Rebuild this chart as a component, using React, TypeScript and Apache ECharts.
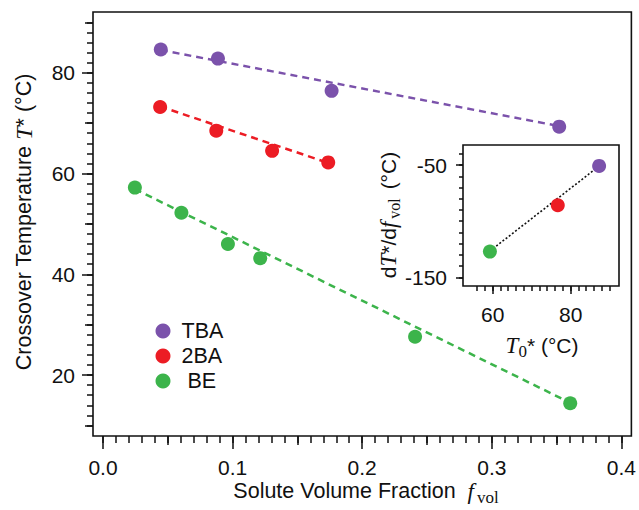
import React, { useEffect, useRef } from "react";
import * as echarts from "echarts";

// ---- data ----
const TBA_X = [0.0446, 0.0887, 0.1764, 0.352];
const TBA_Y = [84.6, 82.8, 76.4, 69.3];
const BA2_X = [0.0441, 0.0874, 0.1305, 0.1738];
const BA2_Y = [73.2, 68.5, 64.5, 62.2];
const BE_X = [0.0246, 0.0605, 0.0964, 0.1213, 0.2408, 0.3605];
const BE_Y = [57.2, 52.2, 46.0, 43.2, 27.6, 14.4];

// fitted dashed lines (end points)
const TBA_FIT_X = [0.0446, 0.352];
const TBA_FIT_Y = [84.5, 69.4];
const BA2_FIT_X = [0.0441, 0.1738];
const BA2_FIT_Y = [73.3, 62.1];
const BE_FIT_X = [0.0246, 0.3605];
const BE_FIT_Y = [56.9, 14.5];

// inset: slope dT*/df_vol vs T0*
const INSET_NAMES = ["BE", "2BA", "TBA"];
const INSET_X = [59.3, 76.7, 87.3];
const INSET_Y = [-127, -85.8, -50.8];
const INSET_FIT_X = [59.3, 87.3];
const INSET_FIT_Y = [-126.5, -51];

const LEGEND_NAMES = ["TBA", "2BA", "BE"];

// tick values
const MAIN_X_MAJOR = [0, 0.1, 0.2, 0.3, 0.4];
const MAIN_X_MID = [0.05, 0.15, 0.25, 0.35];
const MAIN_X_MINOR = Array.from({ length: 41 }, (_, i) => +(i * 0.01).toFixed(2));
const MAIN_Y_MAJOR = [20, 40, 60, 80];
const MAIN_Y_MID = [10, 30, 50, 70, 90];
const MAIN_Y_MINOR = Array.from({ length: 41 }, (_, i) => 10 + i * 2);
const INSET_X_MAJOR = [60, 80];
const INSET_X_MINOR = Array.from({ length: 18 }, (_, i) => 56 + i * 2);
const INSET_Y_MAJOR = [-150, -50];
const INSET_Y_MINOR = Array.from({ length: 12 }, (_, i) => -150 + i * 10);

const PURPLE = "#7b52ab";
const RED = "#ec1c24";
const GREEN = "#3cb44b";
const INK = "#111";
const SANS = "Liberation Sans";
const SERIF = "Liberation Serif";

const zip = (xs: number[], ys: number[]) => xs.map((x, i) => [x, ys[i]]);

export default function App() {
  const ref = useRef<HTMLDivElement>(null);

  useEffect(() => {
    if (!ref.current) return;
    const chart = echarts.init(ref.current, undefined, { renderer: "svg" });

    const tickAxis = (
      kind: "x" | "y",
      grid: number,
      min: number,
      max: number,
      ticks: number[],
      len: number,
      labels?: { values: number[]; fmt: (v: number) => string; margin: number }
    ) => ({
      type: "value",
      gridIndex: grid,
      position: kind === "x" ? "bottom" : "left",
      min,
      max,
      axisLine: { show: false, onZero: false },
      splitLine: { show: false },
      axisTick: {
        show: true,
        inside: false,
        length: len,
        customValues: ticks,
        lineStyle: { color: INK, width: 1.5 },
      },
      axisLabel: labels
        ? {
            show: true,
            customValues: labels.values,
            formatter: labels.fmt,
            fontSize: 21,
            fontFamily: SANS,
            color: INK,
            margin: labels.margin,
          }
        : { show: false },
    });

    const MX = [-0.0077, 0.4077];
    const MY = [7.9, 92.05];
    const IX = [52.4, 92.4];
    const IY = [-157.6, -32.2];

    const option: any = {
      animation: false,
      backgroundColor: "#fff",
      grid: [
        { left: 93, top: 12, width: 540, height: 424, show: true, borderColor: INK, borderWidth: 1.6, backgroundColor: "transparent" },
        { left: 463, top: 145, width: 156, height: 141, show: true, borderColor: INK, borderWidth: 1.6, backgroundColor: "#fff" },
      ],
      xAxis: [
        tickAxis("x", 0, MX[0], MX[1], MAIN_X_MAJOR, 13, { values: MAIN_X_MAJOR, fmt: (v) => v.toFixed(1), margin: 21 }),
        tickAxis("x", 0, MX[0], MX[1], MAIN_X_MINOR, 7),
        tickAxis("x", 0, MX[0], MX[1], MAIN_X_MID, 9),
        tickAxis("x", 1, IX[0], IX[1], INSET_X_MAJOR, 8, { values: INSET_X_MAJOR, fmt: (v) => String(v), margin: 18 }),
        tickAxis("x", 1, IX[0], IX[1], INSET_X_MINOR, 5),
      ],
      yAxis: [
        tickAxis("y", 0, MY[0], MY[1], MAIN_Y_MAJOR, 11, { values: MAIN_Y_MAJOR, fmt: (v) => String(v), margin: 18 }),
        tickAxis("y", 0, MY[0], MY[1], MAIN_Y_MINOR, 6),
        tickAxis("y", 0, MY[0], MY[1], MAIN_Y_MID, 8),
        tickAxis("y", 1, IY[0], IY[1], INSET_Y_MAJOR, 7, { values: INSET_Y_MAJOR, fmt: (v) => String(v), margin: 16 }),
        tickAxis("y", 1, IY[0], IY[1], INSET_Y_MINOR, 4),
      ],
      legend: {
        data: LEGEND_NAMES,
        left: 150.5,
        top: 315,
        orient: "vertical",
        icon: "circle",
        itemWidth: 15,
        itemHeight: 15,
        itemGap: 3,
        formatter: (name: string) => (name === "BE" ? "{b|" + name + "}" : "{a|" + name + "}"),
        textStyle: {
          fontSize: 21.5,
          fontFamily: SANS,
          color: INK,
          lineHeight: 21,
          rich: {
            a: { fontSize: 21.5, fontFamily: SANS, color: INK, padding: [0, 0, 0, 6], lineHeight: 21 },
            b: { fontSize: 21.5, fontFamily: SANS, color: INK, padding: [0, 0, 0, 12], lineHeight: 21 },
          },
        },
      },
      series: [
        { type: "line", name: "TBA fit", xAxisIndex: 0, yAxisIndex: 0, data: zip(TBA_FIT_X, TBA_FIT_Y), showSymbol: false, symbol: "none", lineStyle: { color: PURPLE, width: 2.5, type: [7, 5] }, z: 2 },
        { type: "line", name: "2BA fit", xAxisIndex: 0, yAxisIndex: 0, data: zip(BA2_FIT_X, BA2_FIT_Y), showSymbol: false, symbol: "none", lineStyle: { color: RED, width: 2.5, type: [7, 5] }, z: 2 },
        { type: "line", name: "BE fit", xAxisIndex: 0, yAxisIndex: 0, data: zip(BE_FIT_X, BE_FIT_Y), showSymbol: false, symbol: "none", lineStyle: { color: GREEN, width: 2.5, type: [7, 5] }, z: 2 },
        { type: "scatter", name: "TBA", xAxisIndex: 0, yAxisIndex: 0, data: zip(TBA_X, TBA_Y), symbol: "circle", symbolSize: 14, itemStyle: { color: PURPLE, opacity: 1 }, z: 3 },
        { type: "scatter", name: "2BA", xAxisIndex: 0, yAxisIndex: 0, data: zip(BA2_X, BA2_Y), symbol: "circle", symbolSize: 14, itemStyle: { color: RED, opacity: 1 }, z: 3 },
        { type: "scatter", name: "BE", xAxisIndex: 0, yAxisIndex: 0, data: zip(BE_X, BE_Y), symbol: "circle", symbolSize: 14, itemStyle: { color: GREEN, opacity: 1 }, z: 3 },
        { type: "line", name: "inset fit", xAxisIndex: 3, yAxisIndex: 3, data: zip(INSET_FIT_X, INSET_FIT_Y), showSymbol: false, symbol: "none", lineStyle: { color: INK, width: 1.6, type: [2, 2] }, z: 4 },
        {
          type: "scatter",
          name: "inset",
          xAxisIndex: 3,
          yAxisIndex: 3,
          data: INSET_X.map((x, i) => ({
            name: INSET_NAMES[i],
            value: [x, INSET_Y[i]],
            itemStyle: { color: [GREEN, RED, PURPLE][i], opacity: 1 },
          })),
          itemStyle: { opacity: 1 },
          symbol: "circle",
          symbolSize: 14,
          z: 5,
        },
      ],
      graphic: [
        {
          type: "text",
          x: 24,
          y: 222,
          rotation: Math.PI / 2,
          style: {
            text: "Crossover Temperature {i|T}* (°C)",
            fontSize: 21.5,
            fontFamily: SANS,
            fill: INK,
            align: "center",
            verticalAlign: "middle",
            rich: {
              i: { fontFamily: SERIF, fontStyle: "italic", fontSize: 24, fill: INK },
            },
          },
        },
        {
          type: "text",
          x: 366,
          y: 491,
          style: {
            text: "Solute Volume Fraction  {i|f}{s|vol}",
            fontSize: 21.5,
            fontFamily: SANS,
            fill: INK,
            align: "center",
            verticalAlign: "middle",
            rich: {
              i: { fontFamily: SERIF, fontStyle: "italic", fontSize: 23, fill: INK },
              s: { fontFamily: SERIF, fontSize: 17, fill: INK, padding: [12, 0, 0, 3] },
            },
          },
        },
        {
          type: "text",
          x: 388,
          y: 215,
          rotation: Math.PI / 2,
          style: {
            text: "d{i|T}*/d{i|f}{s|vol} (°C)",
            fontSize: 21,
            fontFamily: SANS,
            fill: INK,
            align: "center",
            verticalAlign: "middle",
            rich: {
              i: { fontFamily: SERIF, fontStyle: "italic", fontSize: 23, fill: INK },
              s: { fontFamily: SERIF, fontSize: 16, fill: INK, padding: [12, 3, 0, 3] },
            },
          },
        },
        {
          type: "text",
          x: 542,
          y: 345,
          style: {
            text: "{i|T}{s|0}* (°C)",
            fontSize: 21,
            fontFamily: SANS,
            fill: INK,
            align: "center",
            verticalAlign: "middle",
            rich: {
              i: { fontFamily: SERIF, fontStyle: "italic", fontSize: 23, fill: INK },
              s: { fontFamily: SERIF, fontSize: 17, fill: INK, padding: [12, 0, 0, 0] },
            },
          },
        },
      ],
    };

    chart.setOption(option);
    return () => chart.dispose();
  }, []);

  return (
    <div
      ref={ref}
      style={{ position: "fixed", left: 0, top: 0, width: 639, height: 510, background: "#fff" }}
    />
  );
}
